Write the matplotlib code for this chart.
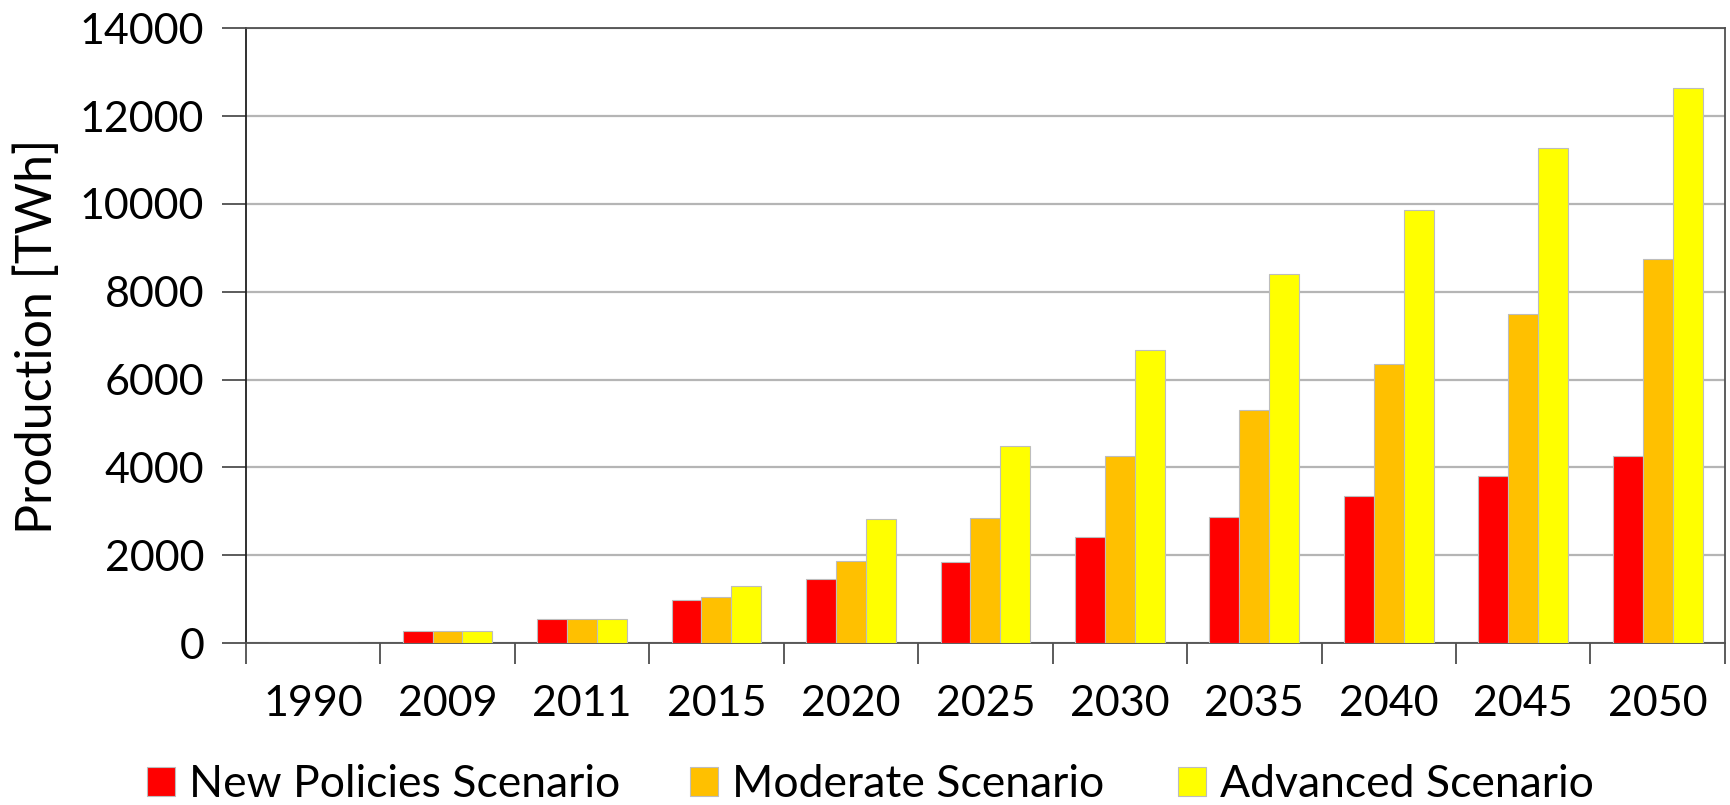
import numpy as np
import matplotlib.pyplot as plt
from matplotlib.patches import Patch

years = ["1990", "2009", "2011", "2015", "2020", "2025", "2030", "2035", "2040", "2045", "2050"]
new_policies = [0, 280, 560, 980, 1450, 1850, 2410, 2870, 3340, 3800, 4270]
moderate = [0, 280, 560, 1050, 1865, 2845, 4250, 5300, 6345, 7505, 8740]
advanced = [0, 280, 560, 1300, 2825, 4480, 6670, 8415, 9870, 11275, 12640]

series = [
    ("New Policies Scenario", new_policies, "#ff0000"),
    ("Moderate Scenario", moderate, "#ffc000"),
    ("Advanced Scenario", advanced, "#ffff00"),
]

plt.rcParams["font.family"] = ["Lato", "DejaVu Sans"]

fig = plt.figure(figsize=(17.31, 8.05), dpi=100)
ax = fig.add_axes([0.142, 0.201, 0.8545, 0.764])

x = np.arange(len(years))
width = 0.667 / 3
for i, (label, vals, color) in enumerate(series):
    ax.bar(x + (i - 1) * width, vals, width, color=color, edgecolor="#bdbdbd",
           linewidth=0.8, label=label, zorder=3)

ax.set_xlim(-0.5, len(years) - 0.5)
ax.set_ylim(0, 14000)
ax.set_yticks(np.arange(0, 14001, 2000))
ax.yaxis.grid(True, color="#b5b5b5", linewidth=1.6, zorder=0)
ax.set_axisbelow(True)

ax.set_xticks(x)
ax.set_xticklabels(years)
ax.set_xticks(np.arange(-0.5, len(years), 1), minor=True)
ax.tick_params(axis="x", which="major", length=0, pad=30, labelsize=31)
ax.tick_params(axis="x", which="minor", length=15, width=1.2, color="#404040", direction="out")
ax.tick_params(axis="y", length=17, width=1.2, color="#404040", pad=13, labelsize=31)

for side in ["left", "bottom", "top", "right"]:
    ax.spines[side].set_linewidth(1.3)
ax.spines["left"].set_color("#202020")
ax.spines["bottom"].set_color("#505050")
ax.spines["top"].set_color("#505050")
ax.spines["right"].set_color("#505050")

fig.text(0.022, 0.582, "Production [TWh]", fontsize=36, rotation=90, ha="center", va="center")

# Excel-style legend: evenly placed entries
legend_x = [0.0848, 0.3986, 0.6805]
for (label, _, color), lx in zip(series, legend_x):
    handle = Patch(facecolor=color, edgecolor="#bdbdbd", linewidth=0.8, label=label)
    fig.legend(handles=[handle], loc="center left", bbox_to_anchor=(lx, 0.025),
               frameon=False, fontsize=32, handlelength=0.64, handleheight=0.64,
               handletextpad=0.3, borderpad=0, borderaxespad=0)

fig.savefig("out.png", dpi=100)
